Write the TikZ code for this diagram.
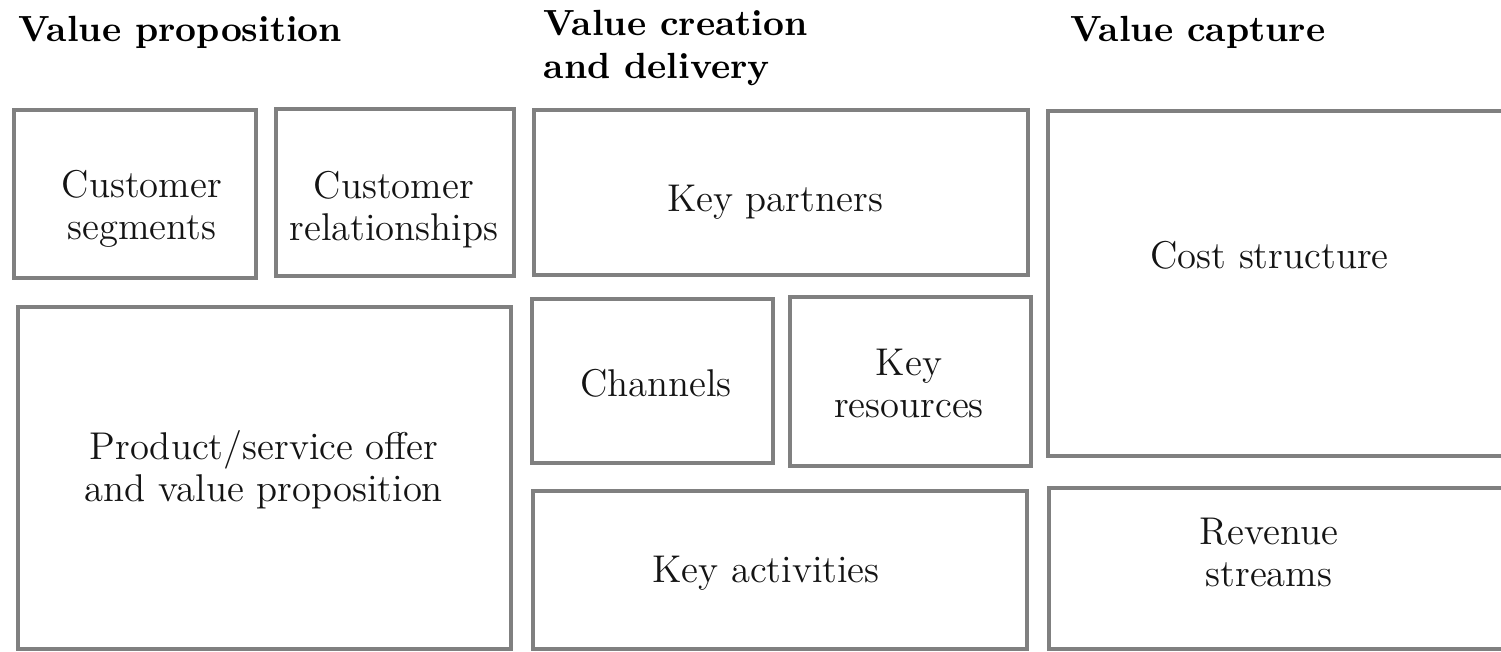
\documentclass[tikz,border=0pt]{standalone}
\usepackage{fontspec}
\usepackage{xcolor}
\usepackage{tikz}
\definecolor{framegray}{RGB}{128,128,128}
\definecolor{inkgray}{RGB}{20,20,20}
\tikzset{
  cell/.style={
    draw=framegray,
    line width=1pt,
    fill=white,
    inner sep=0pt
  },
  celltext/.style={align=center, inner sep=0pt, text=inkgray,
    font=\fontsize{11}{11.95}\selectfont},
  head/.style={align=left, inner sep=0pt, anchor=west, text=black,
    font=\fontsize{10.35}{11.95}\selectfont\bfseries}
}

\begin{document}
\begin{tikzpicture}[x=0.01cm, y=-0.01cm]
    \useasboundingbox (0,0) rectangle (1501,651);

    % column headings
    \node[head] (vprop) at (18,32) {Value proposition};
    \node[head] (vcreate) at (543,48) {Value creation\\and delivery};
    \node[head] (vcapt) at (1070,32) {Value capture};

    % value proposition
    \node[cell, minimum width=2.42cm, minimum height=1.68cm] (cseg) at (135,194) {};
    \node[cell, minimum width=2.38cm, minimum height=1.67cm] (crel) at (395,192.5) {};
    \node[cell, minimum width=4.93cm, minimum height=3.42cm] (offer) at (264.5,478) {};
    \node[celltext] (cseg-t) at (142,209) {Customer\\segments};
    \node[celltext] (crel-t) at (394,209.5) {Customer\\relationships};
    \node[celltext] (offer-t) at (264,470) {Product/service offer\\and value proposition};

    % value creation and delivery
    \node[cell, minimum width=4.94cm, minimum height=1.65cm] (kpart) at (781,192.5) {};
    \node[cell, minimum width=2.41cm, minimum height=1.64cm] (chan) at (652.5,381) {};
    \node[cell, minimum width=2.41cm, minimum height=1.69cm] (kres) at (910.5,381.5) {};
    \node[cell, minimum width=4.94cm, minimum height=1.58cm] (kact) at (780,570) {};
    \node[celltext] (kpart-t) at (775,202.5) {Key partners};
    \node[celltext] (chan-t) at (656,383) {Channels};
    \node[celltext] (kres-t) at (909,383) {Key\\resources};
    \node[celltext] (kact-t) at (766,573) {Key activities};

    % value capture
    \node[cell, minimum width=4.58cm, minimum height=3.45cm] (cost) at (1277,283.5) {};
    \node[cell, minimum width=4.57cm, minimum height=1.61cm] (rev) at (1277.5,568.5) {};
    \node[celltext] (cost-t) at (1269.5,255) {Cost structure};
    \node[celltext] (rev-t) at (1269,552.5) {Revenue\\streams};
\end{tikzpicture}
\end{document}
